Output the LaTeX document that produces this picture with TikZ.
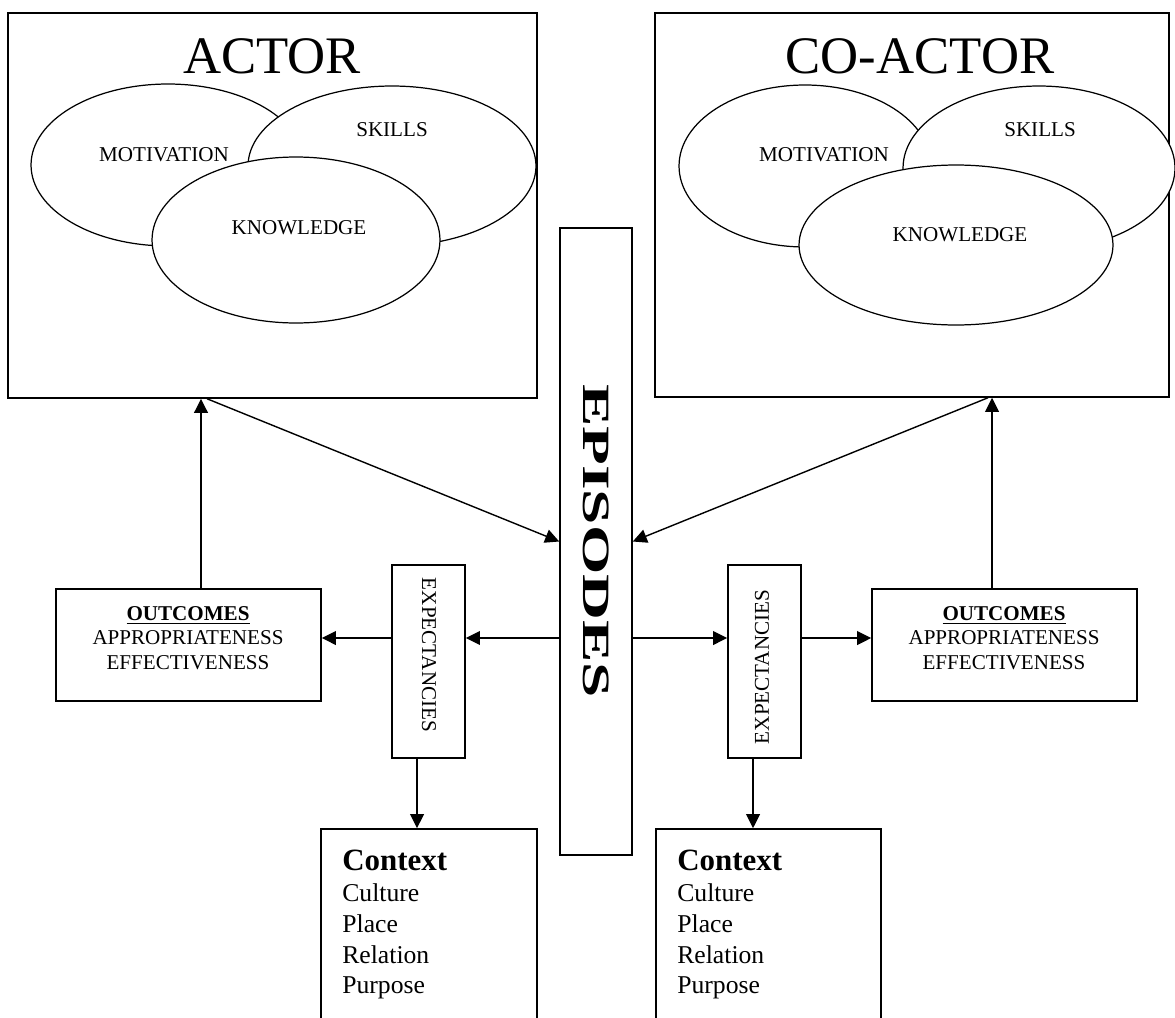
\documentclass[tikz,border=0pt]{standalone}
\usepackage{fontspec}
\setmainfont{Liberation Serif}
\usepackage{graphicx}
\usetikzlibrary{shapes.geometric, arrows.meta}
\tikzstyle{box} = [rectangle, draw=black, line width=0.9pt, fill=white, inner sep=0pt]
\tikzstyle{oval} = [ellipse, draw=black, line width=0.7pt, fill=white, inner sep=0pt]
\tikzstyle{lbl} = [inner sep=0pt, font=\fontsize{12}{13.9}\selectfont]
\tikzstyle{title} = [inner sep=0pt, font=\fontsize{30}{34}\selectfont]
\tikzstyle{ctx} = [inner sep=0pt, anchor=north west, align=left, font=\fontsize{14.6}{17.5}\selectfont]
\tikzstyle{arrow} = [line width=0.8pt, -{Triangle[length=8pt, width=7.8pt]}]

\begin{document}
\begin{tikzpicture}[x=0.02cm, y=-0.02cm]
    \useasboundingbox (0,0) rectangle (1175,1017);

    % Actor
    \node (actor) [box, minimum width=10.58cm, minimum height=7.7cm] at (272.5,205.5) {};
    \node (atitle) [title] at (272,56) {ACTOR};
    \node (amot) [oval, minimum width=5.48cm, minimum height=3.24cm] at (168,165) {};
    \node (askl) [oval, minimum width=5.76cm, minimum height=3.2cm] at (392,166) {};
    \node (aknw) [oval, minimum width=5.76cm, minimum height=3.32cm] at (296,240) {};
    \node (amottxt) [lbl] at (164,155) {MOTIVATION};
    \node (aklltxt) [lbl] at (392,130) {SKILLS};
    \node (aknwtxt) [lbl] at (299,228) {KNOWLEDGE};

    % Co-actor
    \node (coactor) [box, minimum width=10.28cm, minimum height=7.68cm] at (912,205) {};
    \node (ctitle) [title] at (920,56) {CO-ACTOR};
    \node (cmot) [oval, minimum width=5.04cm, minimum height=3.24cm] at (805,166) {};
    \node (cskl) [oval, minimum width=5.44cm, minimum height=3.28cm] at (1039,168) {};
    \node (cknw) [oval, minimum width=6.28cm, minimum height=3.2cm] at (956,245) {};
    \node (cmottxt) [lbl] at (824,155) {MOTIVATION};
    \node (cklltxt) [lbl] at (1040,130) {SKILLS};
    \node (cknwtxt) [lbl] at (960,235) {KNOWLEDGE};

    % Episodes
    \node (episodes) [box, minimum width=1.44cm, minimum height=12.54cm] at (596,541.5) {};
    \node (eptxt) [rotate=-90, inner sep=0pt, font=\fontsize{22}{24}\selectfont\bfseries] at (596,541) {\scalebox{1.64}[1]{EPISODES}};

    % Expectancies
    \node (lexp) [box, minimum width=1.46cm, minimum height=3.86cm] at (428.5,661.5) {};
    \node (lexptxt) [lbl, rotate=-90] at (429,655) {EXPECTANCIES};
    \node (rexp) [box, minimum width=1.46cm, minimum height=3.86cm] at (764.5,661.5) {};
    \node (rexptxt) [lbl, rotate=90] at (762,667) {EXPECTANCIES};

    % Outcomes
    \node (lout) [box, minimum width=5.3cm, minimum height=2.24cm] at (188.5,645) {};
    \node (louttxt) [lbl, align=center] at (188,638) {\underline{\textbf{OUTCOMES}}\\APPROPRIATENESS\\EFFECTIVENESS};
    \node (rout) [box, minimum width=5.3cm, minimum height=2.24cm] at (1004.5,645) {};
    \node (routtxt) [lbl, align=center] at (1004,638) {\underline{\textbf{OUTCOMES}}\\APPROPRIATENESS\\EFFECTIVENESS};

    % Context
    \node (lctx) [box, minimum width=4.32cm, minimum height=4.22cm] at (429,934.5) {};
    \node (lctxtxt) [ctx] at (342,850) {{\fontsize{17.6}{20}\selectfont\bfseries Context}\\Culture\\Place\\Relation\\Purpose};
    \node (rctx) [box, minimum width=4.5cm, minimum height=4.22cm] at (768.5,934.5) {};
    \node (rctxtxt) [ctx] at (677,850) {{\fontsize{17.6}{20}\selectfont\bfseries Context}\\Culture\\Place\\Relation\\Purpose};

    % Arrows
    \coordinate (mid) at (0,638);
    \draw [arrow] ([xshift=-1.31cm]actor.south) -- (episodes.west);
    \draw [arrow] ([xshift=1.52cm]coactor.south) -- (episodes.east);
    \draw [arrow] ([xshift=0.25cm]lout.north) -- ([xshift=0.25cm]lout.north |- actor.south);
    \draw [arrow] ([xshift=-0.25cm]rout.north) -- ([xshift=-0.25cm]rout.north |- coactor.south);
    \draw [arrow] (episodes.west |- mid) -- (lexp.east |- mid);
    \draw [arrow] (lexp.west |- mid) -- (lout.east |- mid);
    \draw [arrow] (episodes.east |- mid) -- (rexp.west |- mid);
    \draw [arrow] (rexp.east |- mid) -- (rout.west |- mid);
    \draw [arrow] ([xshift=-0.23cm]lexp.south) -- ([xshift=-0.23cm]lexp.south |- lctx.north);
    \draw [arrow] ([xshift=-0.23cm]rexp.south) -- ([xshift=-0.23cm]rexp.south |- rctx.north);

\end{tikzpicture}
\end{document}
